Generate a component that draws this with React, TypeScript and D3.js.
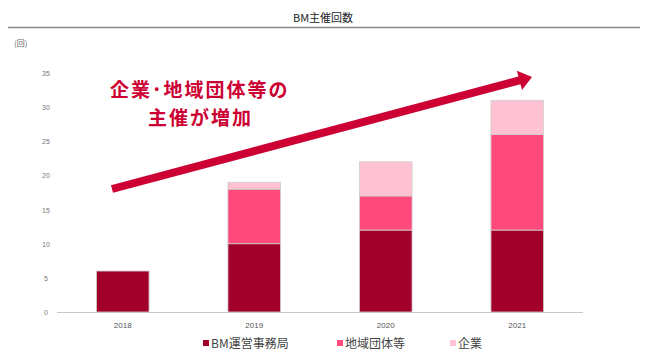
import React from "react";
import * as d3 from "d3";

const years = ["2018", "2019", "2020", "2021"];
const bmOffice = [6, 10, 12, 12];
const regional = [0, 8, 5, 14];
const companies = [0, 1, 5, 5];
const yTicks = [0, 5, 10, 15, 20, 25, 30, 35];
const seriesNames = ["BM運営事務局", "地域団体等", "企業"];
const seriesColors = ["#A1002B", "#FF4A7B", "#FFC2D2"];

const W = 645;
const H = 361;
const FONT = "'Noto Sans CJK JP', 'Noto Sans', sans-serif";
const NUMFONT = "'Liberation Sans', Arial, sans-serif";

export default function App() {
  const x = d3.scaleBand<string>().domain(years).range([57, 583]).paddingInner(0.6).paddingOuter(0.3);
  const y = d3.scaleLinear().domain([0, 35]).range([312, 73]);

  const rows = years.map((yr, i) => ({ year: yr, s0: bmOffice[i], s1: regional[i], s2: companies[i] }));
  const stack = d3.stack<any>().keys(["s0", "s1", "s2"])(rows);

  const arrowStart: [number, number] = [112, 189];
  const arrowEnd: [number, number] = [532, 77];
  const dx = arrowEnd[0] - arrowStart[0];
  const dy = arrowEnd[1] - arrowStart[1];
  const len = Math.hypot(dx, dy);
  const ang = (Math.atan2(dy, dx) * 180) / Math.PI;
  const headLen = 13;
  const headHalf = 10;
  const shaft = 4;

  const legendX = [203, 337, 450];

  return (
    <svg width={W} height={H} style={{ position: "absolute", left: 0, top: 0, background: "#fff" }} fontFamily={FONT}>
      <text x={323} y={22} textAnchor="middle" fontSize={11} fill="#222">BM主催回数</text>
      <line x1={8} x2={640} y1={27.5} y2={27.5} stroke="#888" strokeWidth={1.5} />
      <text x={14} y={46} fontSize={8} fill="#666">(回)</text>

      {yTicks.map((t) => (
        <text key={t} x={46} y={y(t) + 3} textAnchor="middle" fontSize={7} fill="#777" fontFamily={NUMFONT}>{t}</text>
      ))}

      {stack.map((layer, si) =>
        layer.map((d, i) =>
          d[1] - d[0] > 0 ? (
            <rect
              key={si + "-" + i}
              x={x(years[i])}
              y={y(d[1])}
              width={x.bandwidth()}
              height={y(d[0]) - y(d[1])}
              fill={seriesColors[si]}
              stroke="#cfcfcf"
              strokeWidth={0.8}
            />
          ) : null
        )
      )}

      <line x1={57} x2={583} y1={312.5} y2={312.5} stroke="#c8c8c8" strokeWidth={1} />

      {years.map((yr) => (
        <text key={yr} x={(x(yr) as number) + x.bandwidth() / 2} y={328} textAnchor="middle" fontSize={8} fill="#555" fontFamily={NUMFONT}>{yr}</text>
      ))}

      {seriesNames.map((n, i) => (
        <g key={n}>
          <rect x={legendX[i]} y={340} width={6} height={6} fill={seriesColors[i]} />
          <text x={legendX[i] + 8} y={348} fontSize={12} fill="#444">{n}</text>
        </g>
      ))}

      <g transform={`translate(${arrowStart[0]},${arrowStart[1]}) rotate(${ang})`}>
        <path
          d={`M0,${-shaft} L${len - headLen},${-shaft} L${len - headLen},${-headHalf} L${len},0 L${len - headLen},${headHalf} L${len - headLen},${shaft} L0,${shaft} Z`}
          fill="#CC0033"
        />
      </g>

      <text x={110} y={97} fontSize={19} letterSpacing={2} fontWeight="bold" fill="#CC0033">企業･地域団体等の</text>
      <text x={148} y={125} fontSize={19} letterSpacing={2} fontWeight="bold" fill="#CC0033">主催が増加</text>
    </svg>
  );
}
